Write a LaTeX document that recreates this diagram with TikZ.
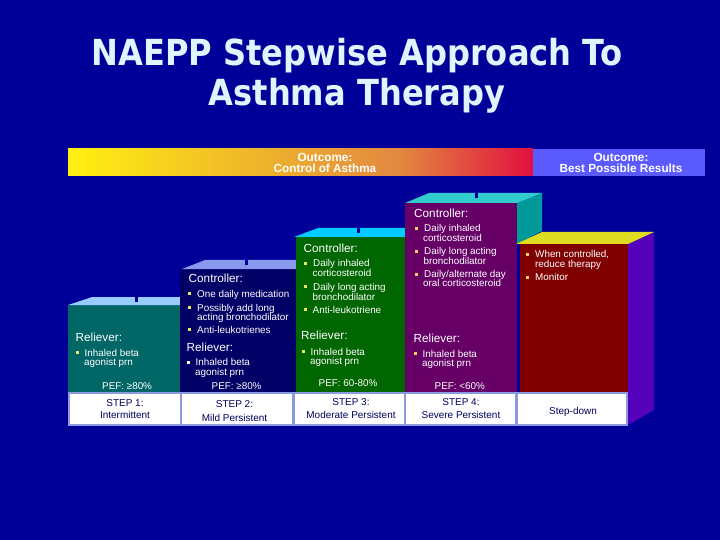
\documentclass[tikz,border=0pt]{standalone}
\usepackage{fontspec}
\setmainfont{Liberation Sans}
\newfontfamily\titlefont[FakeStretch=0.895]{DejaVu Sans}
\definecolor{bgblue}{HTML}{000099}
\definecolor{frame}{HTML}{8C9BE0}
\definecolor{ytick}{HTML}{E8E860}
\definecolor{otick}{HTML}{FFCC66}
\definecolor{gradyellow}{HTML}{FFF010}
\definecolor{gradorange}{HTML}{E28840}
\definecolor{gradred}{HTML}{E01040}
\definecolor{outblue}{HTML}{5A5AFF}
\definecolor{faceA}{HTML}{006666}
\definecolor{topA}{HTML}{99CCFF}
\definecolor{faceB}{HTML}{000066}
\definecolor{topB}{HTML}{8899EE}
\definecolor{faceC}{HTML}{006600}
\definecolor{topC}{HTML}{00CCFF}
\definecolor{faceD}{HTML}{660066}
\definecolor{topD}{HTML}{33CCCC}
\definecolor{sideD}{HTML}{009999}
\definecolor{faceE}{HTML}{800000}
\definecolor{topE}{HTML}{DDDD22}
\definecolor{sideE}{HTML}{5500BB}
\definecolor{titlecol}{HTML}{E0F4FF}
\tikzset{
  txt/.style={anchor=base west,inner sep=0pt,text=white,font=\fontsize{9.9}{10}\selectfont},
  head/.style={anchor=base west,inner sep=0pt,text=white,font=\fontsize{11.8}{12}\selectfont},
  step label/.style={anchor=base,inner sep=0pt,text=bgblue!60!black,font=\fontsize{10}{10}\selectfont},
  outcome/.style={anchor=center,inner sep=0pt,align=center,text=white,font=\fontsize{11.8}{11}\selectfont\bfseries},
  titletxt/.style={anchor=base,inner sep=0pt,text=titlecol,font=\titlefont\fontsize{36}{38}\selectfont\bfseries},
}
\newcommand{\tl}[3]{\node[txt] at (#1,#2) {#3};}
\newcommand{\hd}[3]{\node[head] at (#1,#2) {#3};}
\newcommand{\bu}[4]{\fill[#4] (#1-9,#2-1.6) rectangle ++(3.2,-3.2); \node[txt] at (#1,#2) {#3};}
\newcommand{\stl}[3]{\node[step label] at (#1,#2) {#3};}
\begin{document}
\begin{tikzpicture}[x=1bp,y=-1bp]
\useasboundingbox (0,0) rectangle (720,540);
\fill[bgblue] (0,0) rectangle (720,540);
% title
\node[titletxt] (title1) at (357,66) {NAEPP Stepwise Approach To};
\node[titletxt] (title2) at (357,105.5) {Asthma Therapy};
% outcome bars
\shade[left color=gradyellow,right color=gradorange] (68,149) rectangle (400,176);
\shade[left color=gradorange,right color=gradred] (399.5,149) rectangle (533,176);
\fill[outblue] (533,149) rectangle (705,176);
\node[outcome] (outA) at (325,162.5) {Outcome:\\Control of Asthma};
\node[outcome] (outB) at (621,162.5) {Outcome:\\Best Possible Results};
% step 1
\fill[faceA] (68,305) rectangle (180,393);
\fill[topA] (68,305) -- (92,297) -- (180,297) -- (180,305) -- cycle;
\fill[bgblue] (135,297) rectangle (138,302);
% step 2
\fill[faceB] (180,269) rectangle (296,393);
\fill[topB] (182,269) -- (205,260) -- (296,260) -- (296,269) -- cycle;
\fill[bgblue] (245,260) rectangle (248,265);
% step 3
\fill[faceC] (296,237) rectangle (405,393);
\fill[topC] (294,237) -- (318,228) -- (405,228) -- (405,237) -- cycle;
\fill[bgblue] (357,228) rectangle (359.5,233);
% step 4
\fill[sideD] (517,203) -- (542,193) -- (542,231) -- (517,244) -- cycle;
\fill[faceD] (405,203) rectangle (517,393);
\fill[topD] (405,203) -- (429,193) -- (542,193) -- (517,203) -- cycle;
\fill[bgblue] (475,193) rectangle (477.5,198.5);
% step down
\fill[sideE] (628,244) -- (654,232) -- (654,410) -- (628,425) -- cycle;
\fill[faceE] (520,244) rectangle (628,393);
\fill[topE] (516,244) -- (542,232) -- (654,232) -- (628,244) -- cycle;
% step table
\fill[frame] (68,392) rectangle (628,426);
\fill[white] (70,394) rectangle (180,424);
\fill[white] (182,394) rectangle (292,424);
\fill[white] (295,394) rectangle (404,424);
\fill[white] (406,394) rectangle (515,424);
\fill[white] (518,394) rectangle (626,424);
% step 1 text
\hd{75.5}{341.5}{Reliever:}
\bu{84.5}{356}{Inhaled beta}{ytick}
\tl{84}{365.5}{agonist prn}
\tl{102}{389}{PEF: ≥80\%}
\stl{125}{406}{STEP 1:}
\stl{125}{418.5}{Intermittent}
% step 2 text
\hd{188.5}{283}{Controller:}
\bu{197}{297}{One daily medication}{ytick}
\bu{197}{311}{Possibly add long}{ytick}
\tl{197}{320}{acting bronchodilator}
\bu{197}{333}{Anti-leukotrienes}{ytick}
\hd{186.5}{351}{Reliever:}
\bu{195.5}{365.5}{Inhaled beta}{white!80!yellow}
\tl{195}{375}{agonist prn}
\tl{211.5}{389.5}{PEF: ≥80\%}
\stl{234.5}{407}{STEP 2:}
\stl{234.5}{421}{Mild Persistent}
% step 3 text
\hd{303.5}{253}{Controller:}
\bu{313}{267}{Daily inhaled}{ytick}
\tl{312.5}{277}{corticosteroid}
\bu{313}{290}{Daily long acting}{ytick}
\tl{312.5}{300}{bronchodilator}
\bu{312.5}{313}{Anti-leukotriene}{ytick}
\hd{301}{339}{Reliever:}
\bu{310.5}{355}{Inhaled beta}{ytick}
\tl{310}{364.5}{agonist prn}
\tl{318.5}{386.5}{PEF: 60-80\%}
\stl{351}{405}{STEP 3:}
\stl{351}{418}{Moderate Persistent}
% step 4 text
\hd{414}{218}{Controller:}
\bu{424}{232}{Daily inhaled}{otick}
\tl{423}{242}{corticosteroid}
\bu{424}{255}{Daily long acting}{otick}
\tl{423.5}{265}{bronchodilator}
\bu{424}{278}{Daily/alternate day}{otick}
\tl{423}{287}{oral corticosteroid}
\hd{413.5}{342.5}{Reliever:}
\bu{422.5}{357}{Inhaled beta}{otick}
\tl{422}{366}{agonist prn}
\tl{434.5}{389.5}{PEF: <60\%}
\stl{461}{405}{STEP 4:}
\stl{461}{418}{Severe Persistent}
% step down text
\bu{535}{258}{When controlled,}{otick}
\tl{535}{268}{reduce therapy}
\bu{535}{281}{Monitor}{otick}
\stl{573}{414}{Step-down}
\end{tikzpicture}
\end{document}
